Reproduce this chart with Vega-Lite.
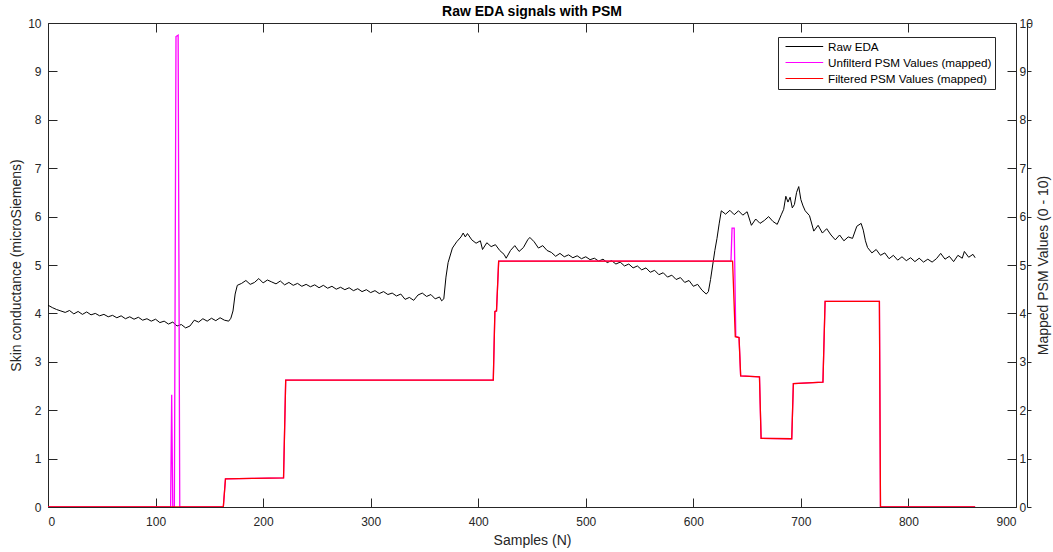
{
  "$schema": "https://vega.github.io/schema/vega-lite/v6.json",
  "autosize": "none",
  "width": 968,
  "height": 484,
  "padding": {"left": 48, "top": 23, "right": 37, "bottom": 45},
  "background": "white",
  "config": {
    "font": "Liberation Sans",
    "view": {"stroke": "#262626", "strokeWidth": 1},
    "axis": {"grid": false, "domainColor": "#262626", "tickColor": "#262626", "labelColor": "#262626", "titleColor": "#262626", "labelFont": "Liberation Sans", "titleFont": "Liberation Sans", "labelFontSize": 12, "titleFontSize": 14, "titleFontWeight": "normal", "domainWidth": 1, "tickWidth": 1}
  },
  "title": {"text": "Raw EDA signals with PSM", "font": "Liberation Sans", "fontSize": 14, "fontWeight": "bold", "color": "#000000", "offset": -2, "anchor": "middle"},
  "data": {"values": [
    {"sample": 0, "value": 4.17, "series": "Raw EDA"},
    {"sample": 4, "value": 4.12, "series": "Raw EDA"},
    {"sample": 8, "value": 4.08, "series": "Raw EDA"},
    {"sample": 12, "value": 4.05, "series": "Raw EDA"},
    {"sample": 16, "value": 4.02, "series": "Raw EDA"},
    {"sample": 20, "value": 4.06, "series": "Raw EDA"},
    {"sample": 24, "value": 3.99, "series": "Raw EDA"},
    {"sample": 28, "value": 4.04, "series": "Raw EDA"},
    {"sample": 32, "value": 3.98, "series": "Raw EDA"},
    {"sample": 36, "value": 4.03, "series": "Raw EDA"},
    {"sample": 40, "value": 3.97, "series": "Raw EDA"},
    {"sample": 44, "value": 4.0, "series": "Raw EDA"},
    {"sample": 48, "value": 3.95, "series": "Raw EDA"},
    {"sample": 52, "value": 3.98, "series": "Raw EDA"},
    {"sample": 56, "value": 3.93, "series": "Raw EDA"},
    {"sample": 60, "value": 3.96, "series": "Raw EDA"},
    {"sample": 64, "value": 3.91, "series": "Raw EDA"},
    {"sample": 68, "value": 3.95, "series": "Raw EDA"},
    {"sample": 72, "value": 3.89, "series": "Raw EDA"},
    {"sample": 76, "value": 3.93, "series": "Raw EDA"},
    {"sample": 80, "value": 3.88, "series": "Raw EDA"},
    {"sample": 84, "value": 3.92, "series": "Raw EDA"},
    {"sample": 88, "value": 3.86, "series": "Raw EDA"},
    {"sample": 92, "value": 3.89, "series": "Raw EDA"},
    {"sample": 96, "value": 3.84, "series": "Raw EDA"},
    {"sample": 100, "value": 3.88, "series": "Raw EDA"},
    {"sample": 104, "value": 3.81, "series": "Raw EDA"},
    {"sample": 108, "value": 3.84, "series": "Raw EDA"},
    {"sample": 112, "value": 3.78, "series": "Raw EDA"},
    {"sample": 116, "value": 3.82, "series": "Raw EDA"},
    {"sample": 120, "value": 3.74, "series": "Raw EDA"},
    {"sample": 124, "value": 3.77, "series": "Raw EDA"},
    {"sample": 128, "value": 3.7, "series": "Raw EDA"},
    {"sample": 132, "value": 3.74, "series": "Raw EDA"},
    {"sample": 136, "value": 3.86, "series": "Raw EDA"},
    {"sample": 140, "value": 3.82, "series": "Raw EDA"},
    {"sample": 144, "value": 3.89, "series": "Raw EDA"},
    {"sample": 148, "value": 3.84, "series": "Raw EDA"},
    {"sample": 152, "value": 3.9, "series": "Raw EDA"},
    {"sample": 156, "value": 3.85, "series": "Raw EDA"},
    {"sample": 160, "value": 3.91, "series": "Raw EDA"},
    {"sample": 164, "value": 3.86, "series": "Raw EDA"},
    {"sample": 168, "value": 3.84, "series": "Raw EDA"},
    {"sample": 170, "value": 3.9, "series": "Raw EDA"},
    {"sample": 172, "value": 4.05, "series": "Raw EDA"},
    {"sample": 174, "value": 4.4, "series": "Raw EDA"},
    {"sample": 176, "value": 4.58, "series": "Raw EDA"},
    {"sample": 180, "value": 4.62, "series": "Raw EDA"},
    {"sample": 184, "value": 4.68, "series": "Raw EDA"},
    {"sample": 188, "value": 4.6, "series": "Raw EDA"},
    {"sample": 192, "value": 4.64, "series": "Raw EDA"},
    {"sample": 196, "value": 4.72, "series": "Raw EDA"},
    {"sample": 200, "value": 4.63, "series": "Raw EDA"},
    {"sample": 204, "value": 4.69, "series": "Raw EDA"},
    {"sample": 208, "value": 4.65, "series": "Raw EDA"},
    {"sample": 212, "value": 4.61, "series": "Raw EDA"},
    {"sample": 216, "value": 4.67, "series": "Raw EDA"},
    {"sample": 220, "value": 4.59, "series": "Raw EDA"},
    {"sample": 224, "value": 4.64, "series": "Raw EDA"},
    {"sample": 228, "value": 4.58, "series": "Raw EDA"},
    {"sample": 232, "value": 4.62, "series": "Raw EDA"},
    {"sample": 236, "value": 4.56, "series": "Raw EDA"},
    {"sample": 240, "value": 4.6, "series": "Raw EDA"},
    {"sample": 244, "value": 4.55, "series": "Raw EDA"},
    {"sample": 248, "value": 4.59, "series": "Raw EDA"},
    {"sample": 252, "value": 4.53, "series": "Raw EDA"},
    {"sample": 256, "value": 4.58, "series": "Raw EDA"},
    {"sample": 260, "value": 4.52, "series": "Raw EDA"},
    {"sample": 264, "value": 4.56, "series": "Raw EDA"},
    {"sample": 268, "value": 4.5, "series": "Raw EDA"},
    {"sample": 272, "value": 4.54, "series": "Raw EDA"},
    {"sample": 276, "value": 4.49, "series": "Raw EDA"},
    {"sample": 280, "value": 4.53, "series": "Raw EDA"},
    {"sample": 284, "value": 4.47, "series": "Raw EDA"},
    {"sample": 288, "value": 4.51, "series": "Raw EDA"},
    {"sample": 292, "value": 4.45, "series": "Raw EDA"},
    {"sample": 296, "value": 4.49, "series": "Raw EDA"},
    {"sample": 300, "value": 4.43, "series": "Raw EDA"},
    {"sample": 304, "value": 4.47, "series": "Raw EDA"},
    {"sample": 308, "value": 4.41, "series": "Raw EDA"},
    {"sample": 312, "value": 4.45, "series": "Raw EDA"},
    {"sample": 316, "value": 4.39, "series": "Raw EDA"},
    {"sample": 320, "value": 4.42, "series": "Raw EDA"},
    {"sample": 324, "value": 4.36, "series": "Raw EDA"},
    {"sample": 328, "value": 4.4, "series": "Raw EDA"},
    {"sample": 332, "value": 4.29, "series": "Raw EDA"},
    {"sample": 336, "value": 4.33, "series": "Raw EDA"},
    {"sample": 340, "value": 4.27, "series": "Raw EDA"},
    {"sample": 344, "value": 4.38, "series": "Raw EDA"},
    {"sample": 348, "value": 4.42, "series": "Raw EDA"},
    {"sample": 352, "value": 4.35, "series": "Raw EDA"},
    {"sample": 356, "value": 4.39, "series": "Raw EDA"},
    {"sample": 360, "value": 4.3, "series": "Raw EDA"},
    {"sample": 364, "value": 4.34, "series": "Raw EDA"},
    {"sample": 366, "value": 4.26, "series": "Raw EDA"},
    {"sample": 368, "value": 4.3, "series": "Raw EDA"},
    {"sample": 370, "value": 4.75, "series": "Raw EDA"},
    {"sample": 372, "value": 5.05, "series": "Raw EDA"},
    {"sample": 376, "value": 5.35, "series": "Raw EDA"},
    {"sample": 380, "value": 5.48, "series": "Raw EDA"},
    {"sample": 384, "value": 5.58, "series": "Raw EDA"},
    {"sample": 386, "value": 5.66, "series": "Raw EDA"},
    {"sample": 388, "value": 5.58, "series": "Raw EDA"},
    {"sample": 390, "value": 5.65, "series": "Raw EDA"},
    {"sample": 394, "value": 5.52, "series": "Raw EDA"},
    {"sample": 398, "value": 5.45, "series": "Raw EDA"},
    {"sample": 402, "value": 5.5, "series": "Raw EDA"},
    {"sample": 404, "value": 5.32, "series": "Raw EDA"},
    {"sample": 408, "value": 5.46, "series": "Raw EDA"},
    {"sample": 412, "value": 5.38, "series": "Raw EDA"},
    {"sample": 416, "value": 5.42, "series": "Raw EDA"},
    {"sample": 420, "value": 5.3, "series": "Raw EDA"},
    {"sample": 424, "value": 5.22, "series": "Raw EDA"},
    {"sample": 426, "value": 5.14, "series": "Raw EDA"},
    {"sample": 430, "value": 5.3, "series": "Raw EDA"},
    {"sample": 434, "value": 5.4, "series": "Raw EDA"},
    {"sample": 438, "value": 5.28, "series": "Raw EDA"},
    {"sample": 442, "value": 5.36, "series": "Raw EDA"},
    {"sample": 446, "value": 5.52, "series": "Raw EDA"},
    {"sample": 448, "value": 5.57, "series": "Raw EDA"},
    {"sample": 452, "value": 5.48, "series": "Raw EDA"},
    {"sample": 456, "value": 5.35, "series": "Raw EDA"},
    {"sample": 460, "value": 5.4, "series": "Raw EDA"},
    {"sample": 464, "value": 5.3, "series": "Raw EDA"},
    {"sample": 468, "value": 5.26, "series": "Raw EDA"},
    {"sample": 472, "value": 5.18, "series": "Raw EDA"},
    {"sample": 476, "value": 5.24, "series": "Raw EDA"},
    {"sample": 480, "value": 5.17, "series": "Raw EDA"},
    {"sample": 484, "value": 5.21, "series": "Raw EDA"},
    {"sample": 488, "value": 5.15, "series": "Raw EDA"},
    {"sample": 492, "value": 5.19, "series": "Raw EDA"},
    {"sample": 496, "value": 5.13, "series": "Raw EDA"},
    {"sample": 500, "value": 5.17, "series": "Raw EDA"},
    {"sample": 504, "value": 5.11, "series": "Raw EDA"},
    {"sample": 508, "value": 5.14, "series": "Raw EDA"},
    {"sample": 512, "value": 5.08, "series": "Raw EDA"},
    {"sample": 516, "value": 5.12, "series": "Raw EDA"},
    {"sample": 520, "value": 5.05, "series": "Raw EDA"},
    {"sample": 524, "value": 5.09, "series": "Raw EDA"},
    {"sample": 528, "value": 5.02, "series": "Raw EDA"},
    {"sample": 532, "value": 5.06, "series": "Raw EDA"},
    {"sample": 536, "value": 4.98, "series": "Raw EDA"},
    {"sample": 540, "value": 5.02, "series": "Raw EDA"},
    {"sample": 544, "value": 4.94, "series": "Raw EDA"},
    {"sample": 548, "value": 4.98, "series": "Raw EDA"},
    {"sample": 552, "value": 4.9, "series": "Raw EDA"},
    {"sample": 556, "value": 4.94, "series": "Raw EDA"},
    {"sample": 560, "value": 4.85, "series": "Raw EDA"},
    {"sample": 564, "value": 4.89, "series": "Raw EDA"},
    {"sample": 568, "value": 4.8, "series": "Raw EDA"},
    {"sample": 572, "value": 4.84, "series": "Raw EDA"},
    {"sample": 576, "value": 4.75, "series": "Raw EDA"},
    {"sample": 580, "value": 4.79, "series": "Raw EDA"},
    {"sample": 584, "value": 4.7, "series": "Raw EDA"},
    {"sample": 588, "value": 4.74, "series": "Raw EDA"},
    {"sample": 592, "value": 4.64, "series": "Raw EDA"},
    {"sample": 596, "value": 4.68, "series": "Raw EDA"},
    {"sample": 600, "value": 4.56, "series": "Raw EDA"},
    {"sample": 604, "value": 4.6, "series": "Raw EDA"},
    {"sample": 608, "value": 4.48, "series": "Raw EDA"},
    {"sample": 612, "value": 4.4, "series": "Raw EDA"},
    {"sample": 614, "value": 4.45, "series": "Raw EDA"},
    {"sample": 616, "value": 4.7, "series": "Raw EDA"},
    {"sample": 618, "value": 5.0, "series": "Raw EDA"},
    {"sample": 620, "value": 5.3, "series": "Raw EDA"},
    {"sample": 622, "value": 5.55, "series": "Raw EDA"},
    {"sample": 624, "value": 5.85, "series": "Raw EDA"},
    {"sample": 626, "value": 6.12, "series": "Raw EDA"},
    {"sample": 630, "value": 6.05, "series": "Raw EDA"},
    {"sample": 634, "value": 6.13, "series": "Raw EDA"},
    {"sample": 638, "value": 6.04, "series": "Raw EDA"},
    {"sample": 642, "value": 6.12, "series": "Raw EDA"},
    {"sample": 646, "value": 6.03, "series": "Raw EDA"},
    {"sample": 650, "value": 6.1, "series": "Raw EDA"},
    {"sample": 654, "value": 5.82, "series": "Raw EDA"},
    {"sample": 658, "value": 5.95, "series": "Raw EDA"},
    {"sample": 662, "value": 5.86, "series": "Raw EDA"},
    {"sample": 666, "value": 5.92, "series": "Raw EDA"},
    {"sample": 670, "value": 6.0, "series": "Raw EDA"},
    {"sample": 674, "value": 5.9, "series": "Raw EDA"},
    {"sample": 678, "value": 5.84, "series": "Raw EDA"},
    {"sample": 682, "value": 6.05, "series": "Raw EDA"},
    {"sample": 684, "value": 6.15, "series": "Raw EDA"},
    {"sample": 686, "value": 6.42, "series": "Raw EDA"},
    {"sample": 688, "value": 6.3, "series": "Raw EDA"},
    {"sample": 690, "value": 6.4, "series": "Raw EDA"},
    {"sample": 692, "value": 6.18, "series": "Raw EDA"},
    {"sample": 694, "value": 6.25, "series": "Raw EDA"},
    {"sample": 696, "value": 6.5, "series": "Raw EDA"},
    {"sample": 698, "value": 6.62, "series": "Raw EDA"},
    {"sample": 700, "value": 6.35, "series": "Raw EDA"},
    {"sample": 702, "value": 6.22, "series": "Raw EDA"},
    {"sample": 704, "value": 6.12, "series": "Raw EDA"},
    {"sample": 708, "value": 6.02, "series": "Raw EDA"},
    {"sample": 712, "value": 5.7, "series": "Raw EDA"},
    {"sample": 716, "value": 5.82, "series": "Raw EDA"},
    {"sample": 720, "value": 5.66, "series": "Raw EDA"},
    {"sample": 724, "value": 5.75, "series": "Raw EDA"},
    {"sample": 728, "value": 5.62, "series": "Raw EDA"},
    {"sample": 732, "value": 5.52, "series": "Raw EDA"},
    {"sample": 736, "value": 5.62, "series": "Raw EDA"},
    {"sample": 740, "value": 5.5, "series": "Raw EDA"},
    {"sample": 744, "value": 5.58, "series": "Raw EDA"},
    {"sample": 748, "value": 5.55, "series": "Raw EDA"},
    {"sample": 752, "value": 5.8, "series": "Raw EDA"},
    {"sample": 756, "value": 5.86, "series": "Raw EDA"},
    {"sample": 758, "value": 5.72, "series": "Raw EDA"},
    {"sample": 760, "value": 5.5, "series": "Raw EDA"},
    {"sample": 762, "value": 5.36, "series": "Raw EDA"},
    {"sample": 766, "value": 5.25, "series": "Raw EDA"},
    {"sample": 770, "value": 5.32, "series": "Raw EDA"},
    {"sample": 774, "value": 5.2, "series": "Raw EDA"},
    {"sample": 778, "value": 5.25, "series": "Raw EDA"},
    {"sample": 782, "value": 5.13, "series": "Raw EDA"},
    {"sample": 786, "value": 5.2, "series": "Raw EDA"},
    {"sample": 790, "value": 5.1, "series": "Raw EDA"},
    {"sample": 794, "value": 5.17, "series": "Raw EDA"},
    {"sample": 798, "value": 5.09, "series": "Raw EDA"},
    {"sample": 802, "value": 5.15, "series": "Raw EDA"},
    {"sample": 806, "value": 5.07, "series": "Raw EDA"},
    {"sample": 810, "value": 5.14, "series": "Raw EDA"},
    {"sample": 814, "value": 5.06, "series": "Raw EDA"},
    {"sample": 818, "value": 5.12, "series": "Raw EDA"},
    {"sample": 822, "value": 5.06, "series": "Raw EDA"},
    {"sample": 826, "value": 5.13, "series": "Raw EDA"},
    {"sample": 830, "value": 5.24, "series": "Raw EDA"},
    {"sample": 834, "value": 5.12, "series": "Raw EDA"},
    {"sample": 838, "value": 5.18, "series": "Raw EDA"},
    {"sample": 842, "value": 5.07, "series": "Raw EDA"},
    {"sample": 846, "value": 5.2, "series": "Raw EDA"},
    {"sample": 850, "value": 5.14, "series": "Raw EDA"},
    {"sample": 852, "value": 5.28, "series": "Raw EDA"},
    {"sample": 856, "value": 5.16, "series": "Raw EDA"},
    {"sample": 860, "value": 5.22, "series": "Raw EDA"},
    {"sample": 862, "value": 5.15, "series": "Raw EDA"},

    {"sample": 0, "value": 0, "series": "Unfilterd PSM Values (mapped)"},
    {"sample": 114, "value": 0, "series": "Unfilterd PSM Values (mapped)"},
    {"sample": 115, "value": 2.32, "series": "Unfilterd PSM Values (mapped)"},
    {"sample": 116, "value": 0, "series": "Unfilterd PSM Values (mapped)"},
    {"sample": 117.5, "value": 0, "series": "Unfilterd PSM Values (mapped)"},
    {"sample": 119, "value": 9.72, "series": "Unfilterd PSM Values (mapped)"},
    {"sample": 121, "value": 9.75, "series": "Unfilterd PSM Values (mapped)"},
    {"sample": 122.5, "value": 0, "series": "Unfilterd PSM Values (mapped)"},
    {"sample": 163, "value": 0, "series": "Unfilterd PSM Values (mapped)"},
    {"sample": 165, "value": 0.58, "series": "Unfilterd PSM Values (mapped)"},
    {"sample": 190, "value": 0.59, "series": "Unfilterd PSM Values (mapped)"},
    {"sample": 219, "value": 0.6, "series": "Unfilterd PSM Values (mapped)"},
    {"sample": 221, "value": 2.62, "series": "Unfilterd PSM Values (mapped)"},
    {"sample": 414, "value": 2.62, "series": "Unfilterd PSM Values (mapped)"},
    {"sample": 415.5, "value": 4.04, "series": "Unfilterd PSM Values (mapped)"},
    {"sample": 417, "value": 4.05, "series": "Unfilterd PSM Values (mapped)"},
    {"sample": 419, "value": 5.08, "series": "Unfilterd PSM Values (mapped)"},
    {"sample": 635, "value": 5.08, "series": "Unfilterd PSM Values (mapped)"},
    {"sample": 636, "value": 5.76, "series": "Unfilterd PSM Values (mapped)"},
    {"sample": 638, "value": 5.76, "series": "Unfilterd PSM Values (mapped)"},
    {"sample": 639.5, "value": 3.52, "series": "Unfilterd PSM Values (mapped)"},
    {"sample": 642.5, "value": 3.5, "series": "Unfilterd PSM Values (mapped)"},
    {"sample": 644, "value": 2.71, "series": "Unfilterd PSM Values (mapped)"},
    {"sample": 661.5, "value": 2.69, "series": "Unfilterd PSM Values (mapped)"},
    {"sample": 663, "value": 1.42, "series": "Unfilterd PSM Values (mapped)"},
    {"sample": 691.5, "value": 1.41, "series": "Unfilterd PSM Values (mapped)"},
    {"sample": 693, "value": 2.55, "series": "Unfilterd PSM Values (mapped)"},
    {"sample": 720.5, "value": 2.58, "series": "Unfilterd PSM Values (mapped)"},
    {"sample": 722.5, "value": 4.25, "series": "Unfilterd PSM Values (mapped)"},
    {"sample": 773, "value": 4.25, "series": "Unfilterd PSM Values (mapped)"},
    {"sample": 774, "value": 0, "series": "Unfilterd PSM Values (mapped)"},
    {"sample": 862, "value": 0, "series": "Unfilterd PSM Values (mapped)"},

    {"sample": 0, "value": 0, "series": "Filtered PSM Values (mapped)"},
    {"sample": 163, "value": 0, "series": "Filtered PSM Values (mapped)"},
    {"sample": 165, "value": 0.58, "series": "Filtered PSM Values (mapped)"},
    {"sample": 190, "value": 0.59, "series": "Filtered PSM Values (mapped)"},
    {"sample": 219, "value": 0.6, "series": "Filtered PSM Values (mapped)"},
    {"sample": 221, "value": 2.62, "series": "Filtered PSM Values (mapped)"},
    {"sample": 414, "value": 2.62, "series": "Filtered PSM Values (mapped)"},
    {"sample": 415.5, "value": 4.04, "series": "Filtered PSM Values (mapped)"},
    {"sample": 417, "value": 4.05, "series": "Filtered PSM Values (mapped)"},
    {"sample": 419, "value": 5.08, "series": "Filtered PSM Values (mapped)"},
    {"sample": 636.5, "value": 5.08, "series": "Filtered PSM Values (mapped)"},
    {"sample": 639, "value": 3.52, "series": "Filtered PSM Values (mapped)"},
    {"sample": 642.5, "value": 3.5, "series": "Filtered PSM Values (mapped)"},
    {"sample": 644, "value": 2.71, "series": "Filtered PSM Values (mapped)"},
    {"sample": 661.5, "value": 2.69, "series": "Filtered PSM Values (mapped)"},
    {"sample": 663, "value": 1.42, "series": "Filtered PSM Values (mapped)"},
    {"sample": 691.5, "value": 1.41, "series": "Filtered PSM Values (mapped)"},
    {"sample": 693, "value": 2.55, "series": "Filtered PSM Values (mapped)"},
    {"sample": 720.5, "value": 2.58, "series": "Filtered PSM Values (mapped)"},
    {"sample": 722.5, "value": 4.25, "series": "Filtered PSM Values (mapped)"},
    {"sample": 773, "value": 4.25, "series": "Filtered PSM Values (mapped)"},
    {"sample": 774, "value": 0, "series": "Filtered PSM Values (mapped)"},
    {"sample": 862, "value": 0, "series": "Filtered PSM Values (mapped)"}
  ]},
  "layer": [
    {
      "transform": [{"filter": "datum.series === 'Raw EDA'"}],
      "mark": {"type": "line", "strokeWidth": 1, "clip": true},
      "encoding": {
        "x": {"field": "sample", "type": "quantitative", "scale": {"domain": [0, 900], "nice": false}, "axis": {"title": "Samples (N)", "values": [0,100,200,300,400,500,600,700,800,900], "tickSize": -9, "labelPadding": 18, "titlePadding": 6, "domain": false}},
        "y": {"field": "value", "type": "quantitative", "scale": {"domain": [0, 10], "nice": false}, "axis": {"title": "Skin conductance (microSiemens)", "orient": "left", "values": [0,1,2,3,4,5,6,7,8,9,10], "tickSize": -9, "labelPadding": 16, "titlePadding": 4, "domain": false}},
        "color": {"field": "series", "type": "nominal", "scale": {"domain": ["Raw EDA", "Unfilterd PSM Values (mapped)", "Filtered PSM Values (mapped)"], "range": ["#000000", "#FF00FF", "#FF0000"]},
          "legend": {"title": null, "orient": "none", "legendX": 730, "legendY": 14, "symbolType": "M-0.33,0H5.95", "symbolSize": 144, "symbolStrokeWidth": 1, "symbolFillColor": "transparent", "labelFontSize": 11.7, "labelLimit": 400, "labelFont": "Liberation Sans", "labelColor": "#000000", "strokeColor": "#262626", "fillColor": "white", "padding": 3, "rowPadding": 2, "labelOffset": 34, "columnPadding": 4}}
      }
    },
    {
      "layer": [
        {
          "transform": [{"filter": "datum.series === 'Unfilterd PSM Values (mapped)'"}],
          "mark": {"type": "line", "strokeWidth": 1.3, "clip": true},
          "encoding": {
            "x": {"field": "sample", "type": "quantitative", "axis": {"title": null, "orient": "top", "labels": false, "values": [0,100,200,300,400,500,600,700,800,900], "tickSize": -9, "domain": false}},
            "y": {"field": "value", "type": "quantitative", "scale": {"domain": [0, 10], "nice": false}, "axis": {"title": "Mapped PSM Values (0 - 10)", "orient": "right", "values": [0,1,2,3,4,5,6,7,8,9,10], "tickSize": -9, "labelPadding": 12, "titlePadding": 18, "titleAngle": 270, "domain": false}},
            "color": {"field": "series", "type": "nominal"}
          }
        },
        {
          "transform": [{"filter": "datum.series === 'Filtered PSM Values (mapped)'"}],
          "mark": {"type": "line", "strokeWidth": 1.3, "clip": true},
          "encoding": {
            "x": {"field": "sample", "type": "quantitative"},
            "y": {"field": "value", "type": "quantitative", "axis": {"title": null, "orient": "right", "offset": 11, "labels": false, "values": [0,1,2,3,4,5,6,7,8,9,10], "tickSize": 4, "domain": true}},
            "color": {"field": "series", "type": "nominal"}
          }
        }
      ],
      "resolve": {"axis": {"y": "independent"}}
    }
  ],
  "resolve": {"scale": {"y": "independent"}, "axis": {"x": "independent", "y": "independent"}}
}
